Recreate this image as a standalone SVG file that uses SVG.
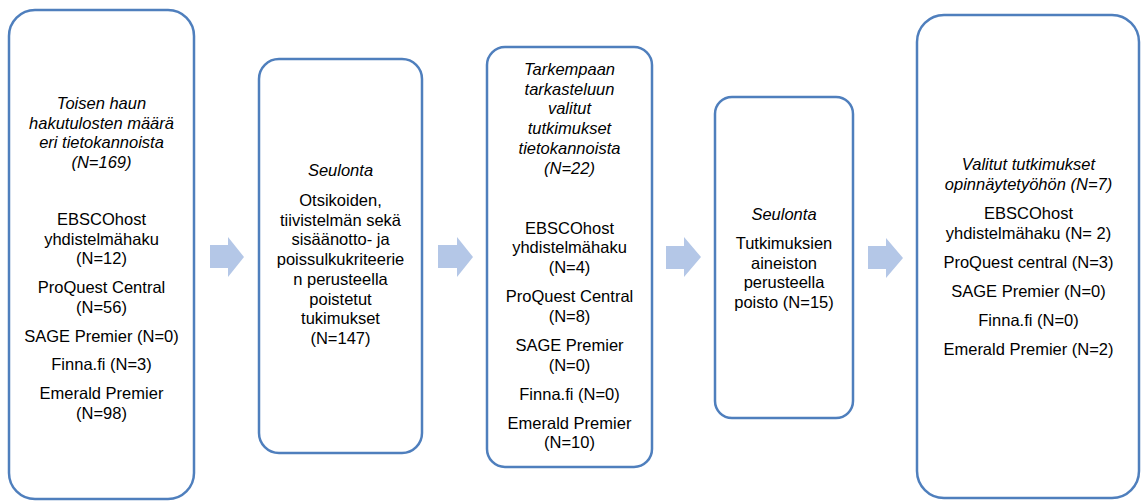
<svg xmlns="http://www.w3.org/2000/svg" width="1141" height="501" viewBox="0 0 1141 501">
<style>
.box{fill:#ffffff;stroke:#4f7fbd;stroke-width:2.5}
.arr{fill:#b4c7e7;stroke:none}
text{font-family:"Liberation Sans",Arial,sans-serif;font-size:16.5px;fill:#000;text-anchor:middle}
.it{font-style:italic}
</style>
<rect width="1141" height="501" fill="#ffffff"/>
<g id="connectors">
<polygon class="arr" points="210,245 228,245 228,237 244,257 228,277 228,268 210,268"/>
<polygon class="arr" points="438,245 457,245 457,237 473,257 457,277 457,268 438,268"/>
<polygon class="arr" points="666,246 684,246 684,237 701,257 684,277 684,269 666,269"/>
<polygon class="arr" points="868,246 886,246 886,238 903,258 886,278 886,269 868,269"/>
</g>
<g id="node1">
<rect class="box" x="9" y="10" width="185" height="489" rx="26"/>
<text class="it" x="101.5" y="109">Toisen haun</text>
<text class="it" x="101.5" y="128.5">hakutulosten määrä</text>
<text class="it" x="101.5" y="148">eri tietokannoista</text>
<text class="it" x="101.5" y="167.5">(N=169)</text>
<text x="101.5" y="225">EBSCOhost</text>
<text x="101.5" y="244.5">yhdistelmähaku</text>
<text x="101.5" y="264">(N=12)</text>
<text x="101.5" y="293">ProQuest Central</text>
<text x="101.5" y="312.5">(N=56)</text>
<text x="101.5" y="341.5">SAGE Premier (N=0)</text>
<text x="101.5" y="370">Finna.fi (N=3)</text>
<text x="101.5" y="399">Emerald Premier</text>
<text x="101.5" y="418.5">(N=98)</text>
</g>
<g id="node2">
<rect class="box" x="259" y="59" width="163" height="394" rx="20"/>
<text class="it" x="340.5" y="176">Seulonta</text>
<text x="340.5" y="206">Otsikoiden,</text>
<text x="340.5" y="225.7">tiivistelmän sekä</text>
<text x="340.5" y="245.4">sisäänotto- ja</text>
<text x="340.5" y="265.1">poissulkukriteerie</text>
<text x="340.5" y="284.8">n perusteella</text>
<text x="340.5" y="304.5">poistetut</text>
<text x="340.5" y="324.2">tukimukset</text>
<text x="340.5" y="343.9">(N=147)</text>
</g>
<g id="node3">
<rect class="box" x="487" y="47" width="165" height="420" rx="18"/>
<text class="it" x="569.5" y="75">Tarkempaan</text>
<text class="it" x="569.5" y="94.7">tarkasteluun</text>
<text class="it" x="569.5" y="114.4">valitut</text>
<text class="it" x="569.5" y="134.1">tutkimukset</text>
<text class="it" x="569.5" y="153.8">tietokannoista</text>
<text class="it" x="569.5" y="173.5">(N=22)</text>
<text x="569.5" y="233.5">EBSCOhost</text>
<text x="569.5" y="253.2">yhdistelmähaku</text>
<text x="569.5" y="272.9">(N=4)</text>
<text x="569.5" y="302">ProQuest Central</text>
<text x="569.5" y="321.7">(N=8)</text>
<text x="569.5" y="350.8">SAGE Premier</text>
<text x="569.5" y="370.5">(N=0)</text>
<text x="569.5" y="399.6">Finna.fi (N=0)</text>
<text x="569.5" y="428.7">Emerald Premier</text>
<text x="569.5" y="448.4">(N=10)</text>
</g>
<g id="node4">
<rect class="box" x="715" y="97" width="138" height="321" rx="17"/>
<text class="it" x="784" y="220">Seulonta</text>
<text x="784" y="249">Tutkimuksien</text>
<text x="784" y="268.7">aineiston</text>
<text x="784" y="288.4">perusteella</text>
<text x="784" y="308.1">poisto (N=15)</text>
</g>
<g id="node5">
<rect class="box" x="917" y="15" width="222" height="483" rx="27"/>
<text class="it" x="1028.5" y="170">Valitut tutkimukset</text>
<text class="it" x="1028.5" y="189.7">opinnäytetyöhön (N=7)</text>
<text x="1028.5" y="219">EBSCOhost</text>
<text x="1028.5" y="238.7">yhdistelmähaku (N= 2)</text>
<text x="1028.5" y="268">ProQuest central (N=3)</text>
<text x="1028.5" y="297">SAGE Premier (N=0)</text>
<text x="1028.5" y="326">Finna.fi (N=0)</text>
<text x="1028.5" y="355">Emerald Premier (N=2)</text>
</g>
</svg>
